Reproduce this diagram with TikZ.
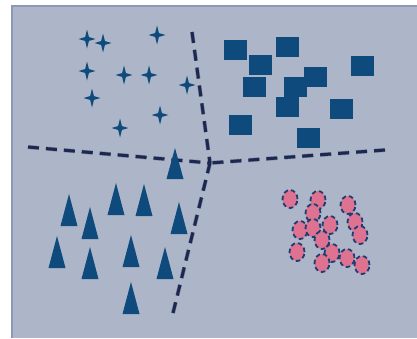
\documentclass[tikz,border=0pt]{standalone}
\definecolor{panel}{RGB}{173,182,200}
\definecolor{panelrim}{RGB}{138,153,181}
\definecolor{glyph}{RGB}{14,74,124}
\definecolor{divider}{RGB}{27,40,84}
\definecolor{blob}{RGB}{222,114,145}
\definecolor{blobrim}{RGB}{28,62,115}
\begin{document}
\begin{tikzpicture}[x=1pt,y=-1pt,
  divline/.style={line width=3pt, dash pattern=on 11pt off 7pt, divider},
  divshade/.style={line width=4pt, dash pattern=on 11pt off 7pt, black, opacity=0.1},
  blobstyle/.style={fill=blob, draw=blobrim, line width=1.8pt, dash pattern=on 4.5pt off 3pt}]
\useasboundingbox (0,0) rectangle (417,338);
\fill[white] (0,0) rectangle (417,338);
% panel
\fill[panel] (11,5) rectangle (417,338);
\draw[panelrim, line width=2.5pt] (12.2,338) -- (12.2,6.2) -- (417,6.2);

% dividing lines with a soft drop shadow
\coordinate (c)  at (210,163);
\coordinate (wl) at (28,147);
\coordinate (er) at (385,150);
\coordinate (nt) at (192,32);
\coordinate (sb) at (173,313);
\begin{scope}[shift={(2,4)}]
  \foreach \o in {0,1.5,3}{
    \draw[divshade, shift={(\o,\o)}] (wl) -- (c);
    \draw[divshade, shift={(\o,\o)}] (er) -- (c);
    \draw[divshade, shift={(\o,\o)}] (nt) -- (c);
    \draw[divshade, shift={(\o,\o)}] (sb) -- (c);
  }
\end{scope}
\draw[divline] (wl) -- (c);
\draw[divline] (er) -- (c);
\draw[divline] (nt) -- (c);
\draw[divline] (sb) -- (c);

% sparkles
\foreach \x/\y in {87/39,103/43,157/35,87/71,124/75,149/75,187/85,92/98,160/115,120/128}{
  \fill[glyph, shift={(\x,\y)}] (8.5,0) -- (1.9,1.9) -- (0,9.5) -- (-1.9,1.9) -- (-8.5,0)
     -- (-1.9,-1.9) -- (0,-9.5) -- (1.9,-1.9) -- cycle;
}

% squares
\foreach \x/\y in {235.5/49.5,287/47,260.5/64.5,362.5/65.5,315/77,254/87,295/87,287/107,341/109,240/125,308.5/138}{
  \fill[glyph] (\x-11.5,\y-10) rectangle ++(23,20);
}

% triangles
\foreach \x/\a in {69/194,90/207,116/183,144/184,179/202,57/236,90/247,131/235,165/247,131/282}{
  \fill[glyph] (\x,\a) -- (\x+8.5,\a+32) -- (\x-8.5,\a+32) -- cycle;
}

% circles
\foreach \x/\y in {290/199,318/200,348/205,313/213,355/222,330/225,300/230,313/228,360/235,322/240,297/252,347/258,332/253,322/263,362/265}{
  \path[blobstyle] (\x,\y) ellipse [x radius=7.5pt, y radius=9pt];
}

% triangle over the crossing
\fill[glyph] (175,148) -- (183.5,179) -- (166.5,179) -- cycle;
\end{tikzpicture}
\end{document}
